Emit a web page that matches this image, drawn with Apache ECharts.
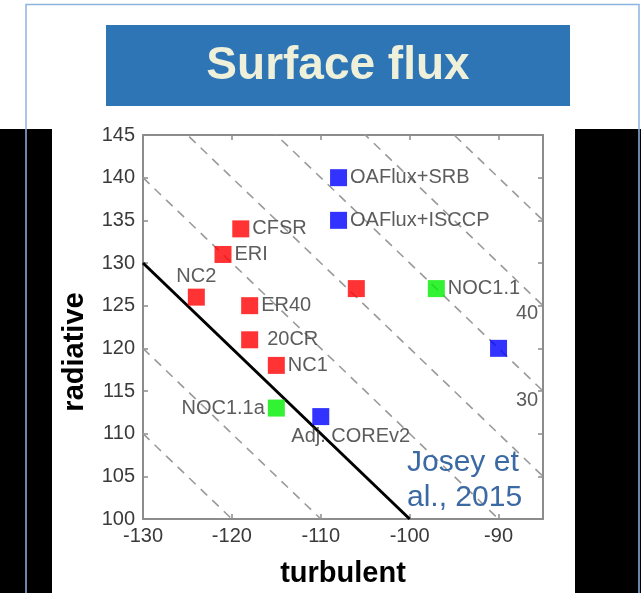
<!DOCTYPE html>
<html>
<head>
<meta charset="utf-8">
<script src="https://cdn.jsdelivr.net/npm/echarts@6/dist/echarts.min.js"></script>
<style>
html,body{margin:0;padding:0;background:#fff;}
#chart{width:641px;height:593px;}
</style>
</head>
<body>
<div id="chart"></div>
<script>
// ---- data ----
var xTicks = [-130, -120, -110, -100, -90];
var yTicks = [100, 105, 110, 115, 120, 125, 130, 135, 140, 145];
var redNames  = ['CFSR', 'ERI', 'NC2', 'ER40', '', '20CR', 'NC1'];
var redX      = [-119, -121, -124, -118, -106, -118, -115];
var redY      = [134, 131, 126, 125, 127, 121, 118];
var blueNames = ['OAFlux+SRB', 'OAFlux+ISCCP', 'Adj. COREv2', ''];
var blueX     = [-108, -108, -110, -90];
var blueY     = [140, 135, 112, 120];
var greenNames = ['NOC1.1', 'NOC1.1a'];
var greenX     = [-97, -115];
var greenY     = [127, 113];
var contourLevels = [-20, -10, 10, 20, 30, 40, 50];   // radiative + turbulent = level (dashed)
var zeroLevel = 0;                                     // solid line
var contourLabelText = ['40', '30'];
var contourLabelX = [-86.8, -86.8];
var contourLabelY = [124.1, 113.9];

// ---- build ----
var xMin = -130, xMax = -85, yMin = 100, yMax = 145;
var labelCfg = {
  'NC2': {position: 'top', distance: 2},
  'NOC1.1a': {position: 'left', distance: 3},
  'Adj. COREv2': {position: 'bottom', distance: 1, offset: [30, 0]},
  '20CR': {position: 'right', distance: 9}
};
function pts(names, xs, ys) {
  return names.map(function (n, i) {
    var c = labelCfg[n] || {position: 'right', distance: 3};
    var lab = {show: n !== '', position: c.position, distance: c.distance};
    if (c.offset) lab.offset = c.offset;
    return {name: n, value: [xs[i], ys[i]], label: lab};
  });
}
function levelLine(c) {
  return [[xMin, c - xMin], [c - yMin, yMin]];
}
var series = [];
contourLevels.forEach(function (c) {
  series.push({
    type: 'line', data: levelLine(c), symbol: 'none', clip: true, silent: true,
    lineStyle: {color: '#9a9a9a', width: 1.6, type: [9, 7]}, z: 1
  });
});
series.push({
  type: 'line', data: levelLine(zeroLevel), symbol: 'none', clip: true, silent: true,
  lineStyle: {color: '#000', width: 3}, z: 2
});
series.push({
  type: 'scatter', silent: true, symbolSize: 0,
  data: contourLabelText.map(function (t, i) { return {name: t, value: [contourLabelX[i], contourLabelY[i]]}; }),
  label: {show: true, position: 'inside', formatter: '{b}', color: '#333', fontSize: 20, fontFamily: 'Liberation Sans, Arial'},
  z: 3
});
var markerLabel = {formatter: '{b}', color: '#333', fontSize: 20, fontFamily: 'Liberation Sans, Arial'};
[['#ff0000', pts(redNames, redX, redY)],
 ['#0000ff', pts(blueNames, blueX, blueY)],
 ['#00ee00', pts(greenNames, greenX, greenY)]].forEach(function (s) {
  series.push({
    type: 'scatter', symbol: 'rect', symbolSize: 17, silent: true,
    itemStyle: {color: s[0]}, data: s[1], label: markerLabel, z: 5
  });
});

var axisLine = {show: true, onZero: false, lineStyle: {color: '#8c8c8c', width: 2}};
var tickStyle = {show: true, inside: true, length: 5, lineStyle: {color: '#8c8c8c', width: 1.5}};
var tickLabel = {color: '#3a3a3a', fontSize: 20, fontFamily: 'Liberation Sans, Arial'};

var chart = echarts.init(document.getElementById('chart'), null, {renderer: 'canvas'});
chart.setOption({
  backgroundColor: '#ffffff',
  animation: false,
  grid: {left: 143, top: 135, width: 400, height: 384, outerBoundsMode: 'none', containLabel: false},
  xAxis: [{
    type: 'value', min: xMin, max: xMax, interval: 10, position: 'bottom',
    axisLine: axisLine, axisTick: tickStyle, splitLine: {show: false},
    axisLabel: Object.assign({margin: 7, showMaxLabel: false,
      formatter: function (v) { return xTicks.indexOf(v) >= 0 ? String(v) : ''; }}, tickLabel),
    name: 'turbulent', nameLocation: 'middle', nameGap: 40,
    nameTextStyle: {color: '#000', fontSize: 29, fontWeight: 'bold', fontFamily: 'Liberation Sans, Arial'}
  }, {
    type: 'value', min: xMin, max: xMax, interval: 10, position: 'top',
    axisLine: axisLine, axisTick: tickStyle, splitLine: {show: false}, axisLabel: {show: false}
  }],
  yAxis: [{
    type: 'value', min: yMin, max: yMax, interval: 5, position: 'left',
    axisLine: axisLine, axisTick: tickStyle, splitLine: {show: false},
    axisLabel: Object.assign({margin: 8,
      formatter: function (v) { return yTicks.indexOf(v) >= 0 ? String(v) : ''; }}, tickLabel),
    name: 'radiative', nameLocation: 'middle', nameGap: 54,
    nameTextStyle: {color: '#000', fontSize: 29, fontWeight: 'bold', fontFamily: 'Liberation Sans, Arial', padding: [0, 50, 0, 0]}
  }, {
    type: 'value', min: yMin, max: yMax, interval: 5, position: 'right',
    axisLine: axisLine, axisTick: tickStyle, splitLine: {show: false}, axisLabel: {show: false}
  }],
  graphic: [
    {type: 'rect', z: -10, shape: {x: 0, y: 129, width: 52, height: 464}, style: {fill: '#000'}, silent: true},
    {type: 'rect', z: -10, shape: {x: 575, y: 129, width: 66, height: 464}, style: {fill: '#000'}, silent: true},
    {type: 'polyline', z: 100, shape: {points: [[26, 593], [26, 4.5], [639, 4.5], [639, 593]]},
      style: {stroke: '#8db3df', lineWidth: 1.5, fill: null}, silent: true},
    {type: 'rect', z: 10, shape: {x: 106, y: 25, width: 464, height: 81}, style: {fill: '#2e75b6'}, silent: true},
    {type: 'text', z: 11, x: 338, y: 66, style: {text: 'Surface flux', fill: '#eef0da',
      font: 'bold 46px "Liberation Sans", Arial', textAlign: 'center', textVerticalAlign: 'middle'}, silent: true},
    {type: 'text', z: 11, x: 407, y: 445, style: {text: 'Josey et\nal., 2015', fill: '#3b69a3',
      font: '30px "Liberation Sans", Arial', lineHeight: 35, textAlign: 'left', textVerticalAlign: 'top'}, silent: true}
  ],
  series: series
});
</script>
</body>
</html>
